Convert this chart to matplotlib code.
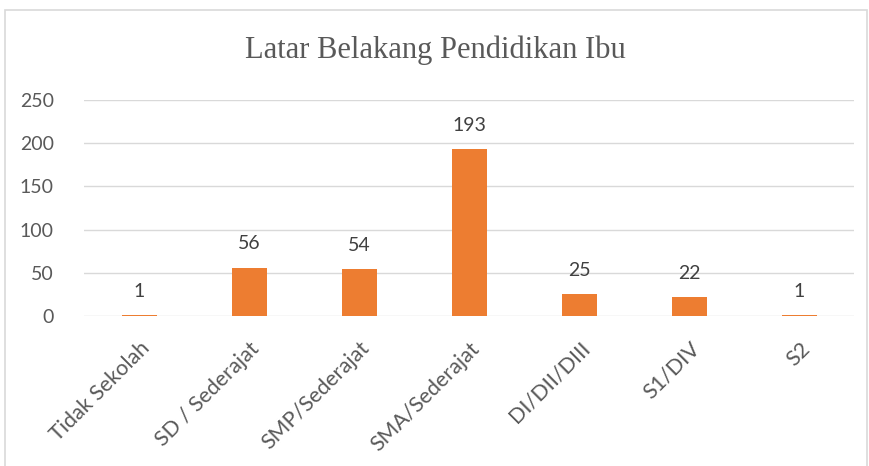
import matplotlib.pyplot as plt
from matplotlib.patches import Rectangle

kategori = ["Tidak Sekolah", "SD / Sederajat", "SMP/Sederajat", "SMA/Sederajat",
            "DI/DII/DIII", "S1/DIV", "S2"]
jumlah = [1, 56, 54, 193, 25, 22, 1]
yticks = [0, 50, 100, 150, 200, 250]

abu = "#595959"

fig = plt.figure(figsize=(8.7, 4.66), dpi=100)
fig.patches.append(Rectangle((5 / 870, -0.05), 862 / 870, 1 - 10 / 466 + 0.05,
                             transform=fig.transFigure, fill=False,
                             edgecolor="#d9d9d9", linewidth=1.2))

ax = fig.add_axes([84.5 / 870, 1 - 316 / 466, 770 / 870, 216 / 466])
x = range(len(kategori))
ax.bar(x, jumlah, width=0.32, color="#ED7D31", zorder=3)
for xi, v in zip(x, jumlah):
    ax.annotate(str(v), (xi, v), xytext=(0, 11), textcoords="offset points",
                ha="center", va="bottom", fontsize=14, color="#404040",
                family="Lato")

ax.set_xlim(-0.5, len(kategori) - 0.5)
ax.set_ylim(0, 250)
ax.set_yticks(yticks)
ax.set_yticklabels([str(t) for t in yticks], fontsize=14, color=abu, family="Lato")
ax.set_xticks(list(x))
ax.set_xticklabels(kategori, rotation=45, ha="right", rotation_mode="anchor",
                   fontsize=15.5, color=abu, family="Lato")
ax.tick_params(axis="both", length=0)
ax.tick_params(axis="y", pad=22)
ax.tick_params(axis="x", pad=16)
ax.grid(axis="y", color="#d9d9d9", linewidth=1, zorder=0)
for s in ax.spines.values():
    s.set_visible(False)

fig.text(0.5, 1 - 50 / 466, "Latar Belakang Pendidikan Ibu", ha="center", va="center",
         fontsize=22, color=abu, family="Liberation Serif")

fig.savefig("out.png", dpi=100)
